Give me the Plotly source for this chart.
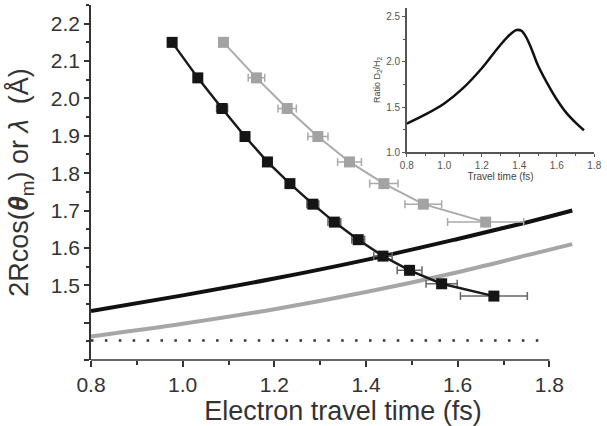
import plotly.graph_objects as go

# ---- data ----
black_curve_x = [0.80, 1.00, 1.20, 1.40, 1.60, 1.75, 1.85]
black_curve_y = [1.431, 1.473, 1.518, 1.568, 1.624, 1.668, 1.700]

grey_curve_x = [0.80, 1.00, 1.20, 1.40, 1.60, 1.75, 1.85]
grey_curve_y = [1.363, 1.397, 1.436, 1.482, 1.535, 1.580, 1.610]

dotted_x = [0.80, 1.78]
dotted_y = [1.352, 1.352]

black_x = [0.977, 1.033, 1.086, 1.136, 1.185, 1.234, 1.284, 1.331, 1.383, 1.437, 1.495, 1.565, 1.679]
black_y = [2.150, 2.055, 1.973, 1.898, 1.830, 1.772, 1.717, 1.669, 1.622, 1.578, 1.540, 1.504, 1.471]
black_err = [0.003, 0.005, 0.012, 0.006, 0.006, 0.008, 0.013, 0.014, 0.014, 0.020, 0.027, 0.034, 0.073]

grey_x = [1.089, 1.161, 1.228, 1.295, 1.364, 1.439, 1.525, 1.661]
grey_y = [2.150, 2.055, 1.973, 1.898, 1.830, 1.772, 1.717, 1.669]
grey_err = [0.008, 0.018, 0.020, 0.022, 0.026, 0.031, 0.040, 0.083]

inset_x = [0.80, 0.90, 1.00, 1.10, 1.20, 1.30, 1.36, 1.385, 1.41, 1.435, 1.46, 1.50, 1.55, 1.60, 1.65, 1.70, 1.745]
inset_y = [1.318, 1.42, 1.541, 1.71, 1.93, 2.19, 2.32, 2.352, 2.345, 2.28, 2.17, 1.96, 1.76, 1.585, 1.44, 1.33, 1.245]

y_tickvals = [1.3, 1.4, 1.5, 1.6, 1.7, 1.8, 1.9, 2.0, 2.1, 2.2]
y_ticktext = ["", "", "1.5", "1.6", "1.7", "1.8", "1.9", "2.0", "2.1", "2.2"]

FONT = "Liberation Sans, Arial, sans-serif"

fig = go.Figure()

fig.add_trace(go.Scatter(x=dotted_x, y=dotted_y, mode="lines",
                         line=dict(color="#333", width=2.5, dash="2.5px,11.4px"),
                         hoverinfo="skip"))
fig.add_trace(go.Scatter(x=grey_curve_x, y=grey_curve_y, mode="lines",
                         line=dict(color="#a6a6a6", width=4, shape="spline", smoothing=1)))
fig.add_trace(go.Scatter(x=black_curve_x, y=black_curve_y, mode="lines",
                         line=dict(color="#111", width=4, shape="spline", smoothing=1)))

fig.add_trace(go.Scatter(x=grey_x, y=grey_y, mode="lines+markers",
                         line=dict(color="#aaaaaa", width=2),
                         marker=dict(symbol="square", size=11, color="#a3a3a3"),
                         error_x=dict(type="data", array=grey_err, color="#aaaaaa",
                                      thickness=1.5, width=4)))
fig.add_trace(go.Scatter(x=black_x, y=black_y, mode="lines+markers",
                         line=dict(color="#1a1a1a", width=2.5),
                         marker=dict(symbol="square", size=11, color="#151515"),
                         error_x=dict(type="data", array=black_err, color="#666",
                                      thickness=1.5, width=4)))

fig.add_trace(go.Scatter(x=inset_x, y=inset_y, mode="lines", xaxis="x2", yaxis="y2",
                         line=dict(color="#111", width=2.5, shape="spline", smoothing=0.8)))

fig.update_layout(
    width=607, height=426,
    margin=dict(l=91, r=8, t=5, b=64),
    paper_bgcolor="white", plot_bgcolor="white",
    showlegend=False,
    font=dict(family=FONT, color="#333"),
    xaxis=dict(range=[0.8, 1.8996], showline=False, showgrid=False, zeroline=False,
               tickmode="linear", tick0=0.8, dtick=0.2, tickformat=".1f",
               ticks="outside", ticklen=6, tickwidth=1.5, tickcolor="#333",
               minor=dict(ticks="outside", ticklen=4, tickwidth=1.5, tickcolor="#333",
                          tick0=0.8, dtick=0.1),
               tickfont=dict(size=21, color="#333"),
               title=dict(text="Electron travel time (fs)", font=dict(size=27, color="#333"),
                          standoff=6)),
    yaxis=dict(range=[1.3, 2.25], showline=True, linecolor="#333", linewidth=1.5,
               showgrid=False, zeroline=False,
               tickmode="array", tickvals=y_tickvals, ticktext=y_ticktext,
               ticks="outside", ticklen=5, tickwidth=1.5, tickcolor="#333",
               minor=dict(ticks="outside", ticklen=3, tickwidth=1.5, tickcolor="#333",
                          tickmode="linear", tick0=1.3, dtick=0.05),
               tickfont=dict(size=21, color="#333"),
               title=dict(text="2Rcos(<b><i>θ</i></b><sub>m</sub>) or <i>λ</i>  (Å)",
                          font=dict(size=27, color="#333"), standoff=14)),
    xaxis2=dict(domain=[0.6266, 0.9986], anchor="y2", range=[0.8, 1.8],
                showline=True, linecolor="#555", linewidth=1.5, showgrid=False, zeroline=False,
                tickmode="linear", tick0=0.8, dtick=0.2, tickformat=".1f",
                ticks="outside", ticklen=3, tickwidth=1, tickcolor="#555",
                minor=dict(ticks="outside", ticklen=2, tickcolor="#555", tick0=0.8, dtick=0.1),
                tickfont=dict(size=10, color="#555"),
                title=dict(text="Travel time (fs)", font=dict(size=10, color="#444"), standoff=2)),
    yaxis2=dict(domain=[0.5846, 0.9927], anchor="x2", range=[1.0, 2.6],
                showline=True, linecolor="#555", linewidth=1.5, showgrid=False, zeroline=False,
                tickmode="array", tickvals=[1.0, 1.5, 2.0, 2.5], ticktext=["1.0", "1.5", "2.0", "2.5"],
                ticks="outside", ticklen=3, tickwidth=1, tickcolor="#555",
                minor=dict(ticks="outside", ticklen=2, tickcolor="#555", tickmode="linear",
                           tick0=1.0, dtick=0.25),
                tickfont=dict(size=10, color="#555"),
                title=dict(text="Ratio D<sub>2</sub>/H<sub>2</sub>", font=dict(size=9, color="#444"),
                           standoff=4)),
    shapes=[dict(type="line", xref="x", yref="paper", x0=0.8, x1=1.8, y0=0, y1=0,
                 line=dict(color="#333", width=1.5))],
)

fig.write_html("out.html")
